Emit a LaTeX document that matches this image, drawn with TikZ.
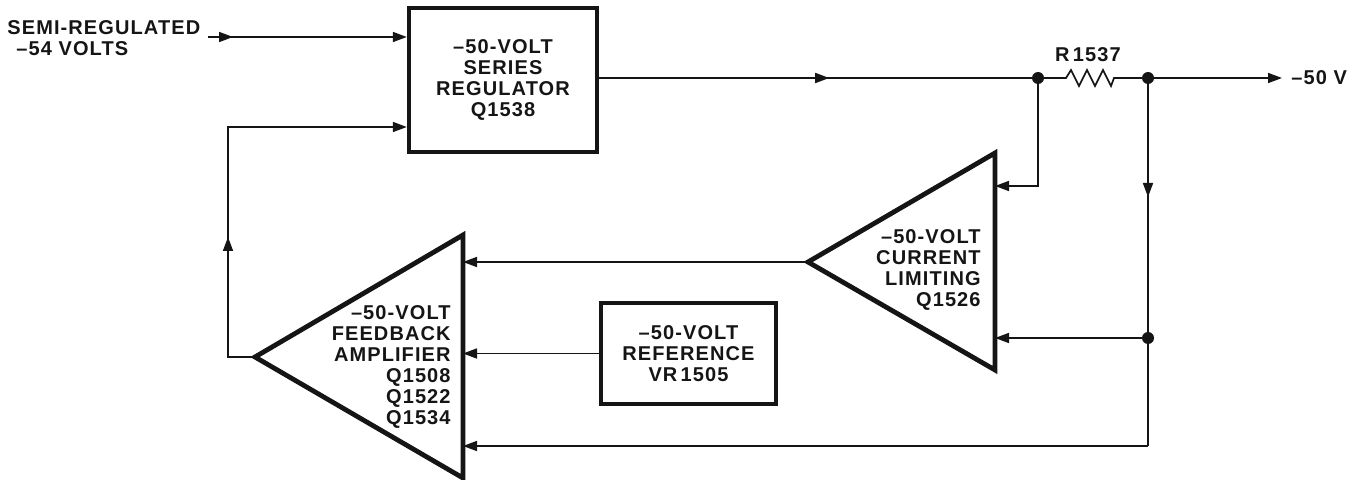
\documentclass[tikz,border=0pt]{standalone}
\usepackage{fontspec}
\setmainfont{Liberation Sans}[LetterSpace=5.5]
\usetikzlibrary{positioning, calc, arrows.meta, decorations.markings}
\definecolor{ink}{HTML}{151515}
\newcommand{\BlockF}{\fontsize{10}{10.5}\selectfont\bfseries}
\tikzset{
  blk/.style={draw=ink, line width=2.2pt, align=center, font=\BlockF, text=ink, inner sep=0pt},
  lbl/.style={font=\BlockF, text=ink, inner sep=0pt},
  tri/.style={draw=ink, line width=2.4pt, line join=miter},
  wire/.style={draw=ink, line width=0.85pt},
  sig/.style={wire, -{Triangle[length=7pt,width=5pt]}},
  midarr/.style={postaction={decorate}, decoration={markings,
      mark=at position #1 with {\arrow{Triangle[length=7pt,width=5pt]}}}},
  jdot/.style={fill=ink}
}

\begin{document}
\begin{tikzpicture}[x=0.5pt, y=-0.5pt]
  \useasboundingbox (0,0) rectangle (1370,480);

  % blocks
  \node[blk, minimum width=94pt, minimum height=72pt] (reg) at (503,80)
    {--50-VOLT\\SERIES\\REGULATOR\\Q1538};
  \node[blk, minimum width=87.5pt, minimum height=50.5pt] (ref) at (688.5,353.5)
    {--50-VOLT\\REFERENCE\\VR\,1505};

  \coordinate (amp apex) at (255,357);
  \coordinate (amp top) at (463,235);
  \coordinate (amp bot) at (463,478);
  \draw[tri] (amp apex) -- (amp top) -- (amp bot) -- cycle;
  \node[lbl, align=right, anchor=east] (amptext) at (451,367)
    {--50-VOLT\\FEEDBACK\\AMPLIFIER\\Q1508\\Q1522\\Q1534};

  \coordinate (cl apex) at (808,262);
  \coordinate (cl top) at (995,153);
  \coordinate (cl bot) at (995,370);
  \draw[tri] (cl apex) -- (cl top) -- (cl bot) -- cycle;
  \node[lbl, align=right, anchor=east] (cltext) at (981,270)
    {--50-VOLT\\CURRENT\\LIMITING\\Q1526};

  % labels
  \node[lbl, align=left, anchor=west] (srclbl) at (7,38)
    {SEMI-REGULATED\\\hspace{4.5pt}--54 VOLTS};
  \node[lbl, anchor=west] (outlbl) at (1291,78) {--50 V};
  \node[lbl] (rlbl) at (1088,55) {R\,1537};

  % junctions
  \coordinate (src) at (208,37);
  \coordinate (j1) at (1038,78);
  \coordinate (j2) at (1148,78);
  \coordinate (j3) at (1148,338);
  \coordinate (isense) at (1038,186);
  \coordinate (bend) at (1148,446);
  \coordinate (out) at (1282,78);
  \coordinate (r1) at (1066,78);
  \coordinate (r2) at (1114,78);
  \coordinate (fb low) at (228,357);
  \coordinate (fb high) at (228,127);

  % connectors
  \draw[sig, midarr=12.5pt] (src) -- (src -| reg.west);
  \draw[sig, midarr=73.5pt] (amp apex) -- (fb low) -- (fb high) -- (fb high -| reg.west);
  \draw[wire, midarr=115pt] (reg.east |- j1) -- (j1);
  \draw[wire] (j1) -- (r1) -- ++(5,-8) -- ++(8,16) -- ++(8,-16) -- ++(8,16)
    -- ++(8,-16) -- ++(8,16) -- ++(3,-8) -- (r2) -- (j2);
  \draw[sig] (j2) -- (out);
  \draw[sig] (j1) -- (isense) -- (isense -| cl top);
  \draw[wire, midarr=59.5pt] (j2) -- (bend);
  \draw[sig] (j3) -- (j3 -| cl top);
  \draw[sig] (bend) -- (bend -| amp top);
  \draw[sig] (cl apex) -- (cl apex -| amp top);
  \draw[sig] (ref.west) -- (ref.west -| amp top);

  \foreach \j in {j1, j2, j3}
    \fill[jdot] (\j) circle (3pt);
\end{tikzpicture}
\end{document}
